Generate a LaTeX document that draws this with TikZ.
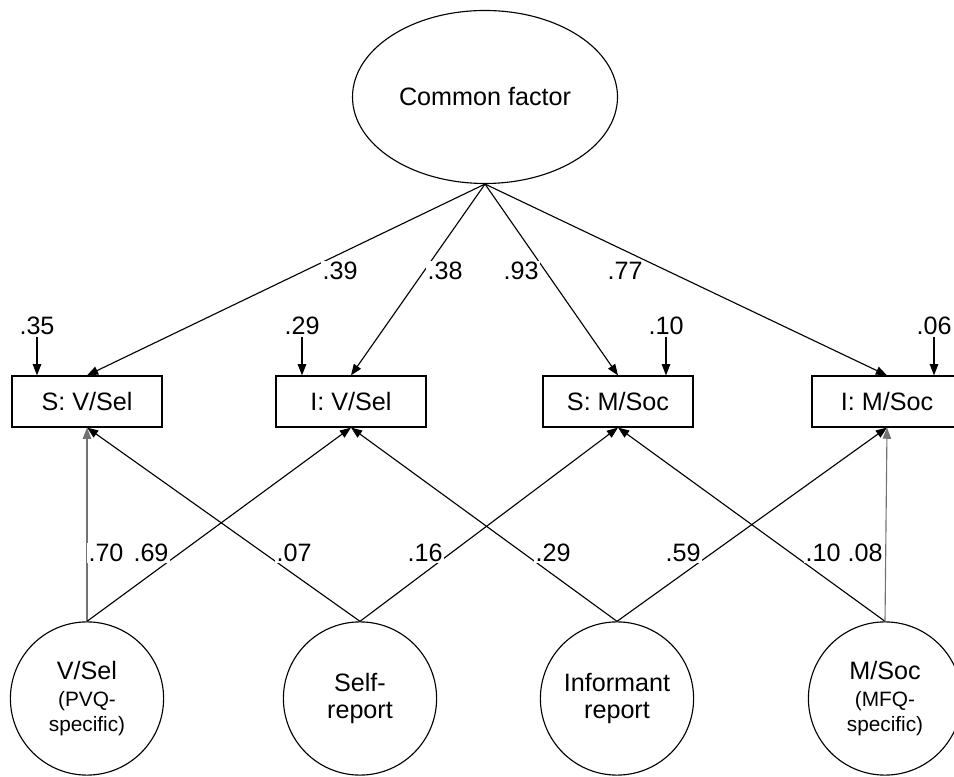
\documentclass[tikz,border=0pt]{standalone}
\usepackage{fontspec}
\setmainfont{Liberation Sans}
\usetikzlibrary{shapes.geometric,arrows.meta}

\tikzset{
  factor/.style={draw, ellipse, line width=0.8pt, minimum width=6.625cm, minimum height=4.325cm, inner sep=0pt},
  obs/.style={draw, rectangle, line width=0.8pt, minimum width=3.75cm, minimum height=1.275cm, inner sep=0pt},
  latent/.style={draw, circle, line width=0.8pt, minimum size=3.83cm, inner sep=0pt, align=center},
  coef/.style={fill=white, inner sep=1pt},
  path/.style={draw, line width=0.8pt, -{Triangle[length=2.8mm,width=2.1mm]}},
  vpath/.style={path, draw=black!55},
}
\newcommand{\sm}{\fontsize{14.8pt}{17pt}\selectfont}

\begin{document}
\begin{tikzpicture}[font=\fontsize{17.9pt}{21pt}\selectfont]
\clip (0,0) rectangle (23.85,19.4);

\node[factor] (cf) at (12.125,16.975) {Common factor};

\node[obs] (s1) at (2.175,9.3625) {S: V/Sel};
\node[obs] (i1) at (8.775,9.3625) {I: V/Sel};
\node[obs] (s2) at (15.45,9.3625) {S: M/Soc};
\node[obs] (i2) at (22.175,9.3625) {I: M/Soc};

\node[latent] (vs) at (2.175,1.9375) {V/Sel\\[-2pt]{\sm (PVQ-}\\[-3pt]{\sm specific)}};
\node[latent] (sr) at (9.0,1.9375) {Self-\\[-2pt]report};
\node[latent] (ir) at (15.425,1.9375) {Informant\\[-2pt]report};
\node[latent] (ms) at (22.125,1.9375) {M/Soc\\[-2pt]{\sm (MFQ-}\\[-3pt]{\sm specific)}};

% residuals
\node[inner sep=1pt] (e1) at (0.925,11.25) {.35};
\node[inner sep=1pt] (e2) at (7.55,11.25) {.29};
\node[inner sep=1pt] (e3) at (16.65,11.25) {.10};
\node[inner sep=1pt] (e4) at (23.35,11.25) {.06};

\path[path] (e1) -- (e1 |- s1.north);
\path[path] (e2) -- (e2 |- i1.north);
\path[path] (e3) -- (e3 |- s2.north);
\path[path] (e4) -- (e4 |- i2.north);

% common factor loadings
\path[path] (cf.south) -- (s1.north);
\path[path] (cf.south) -- (i1.north);
\path[path] (cf.south) -- (s2.north);
\path[path] (cf.south) -- (i2.north);

% method factors
\path[vpath] (vs.north) -- (s1.south);
\path[path] (vs.north) -- (i1.south);
\path[path] (sr.north) -- (s1.south);
\path[path] (sr.north) -- (s2.south);
\path[path] (ir.north) -- (i1.south);
\path[path] (ir.north) -- (i2.south);
\path[path] (ms.north) -- (s2.south);
\path[vpath] (ms.north) -- (i2.south);

% coefficients
\node[coef] (l1) at (8.5,12.625) {.39};
\node[coef] (l2) at (11.125,12.625) {.38};
\node[coef] (l3) at (13.025,12.625) {.93};
\node[coef] (l4) at (15.625,12.625) {.77};

\node[coef] (m1) at (2.65,5.575) {.70};
\node[coef] (m2) at (3.775,5.575) {.69};
\node[coef] (m3) at (7.35,5.575) {.07};
\node[coef] (m4) at (10.625,5.575) {.16};
\node[coef] (m5) at (13.825,5.575) {.29};
\node[coef] (m6) at (17.075,5.575) {.59};
\node[coef] (m7) at (20.575,5.575) {.10};
\node[coef] (m8) at (21.625,5.575) {.08};
\end{tikzpicture}
\end{document}
